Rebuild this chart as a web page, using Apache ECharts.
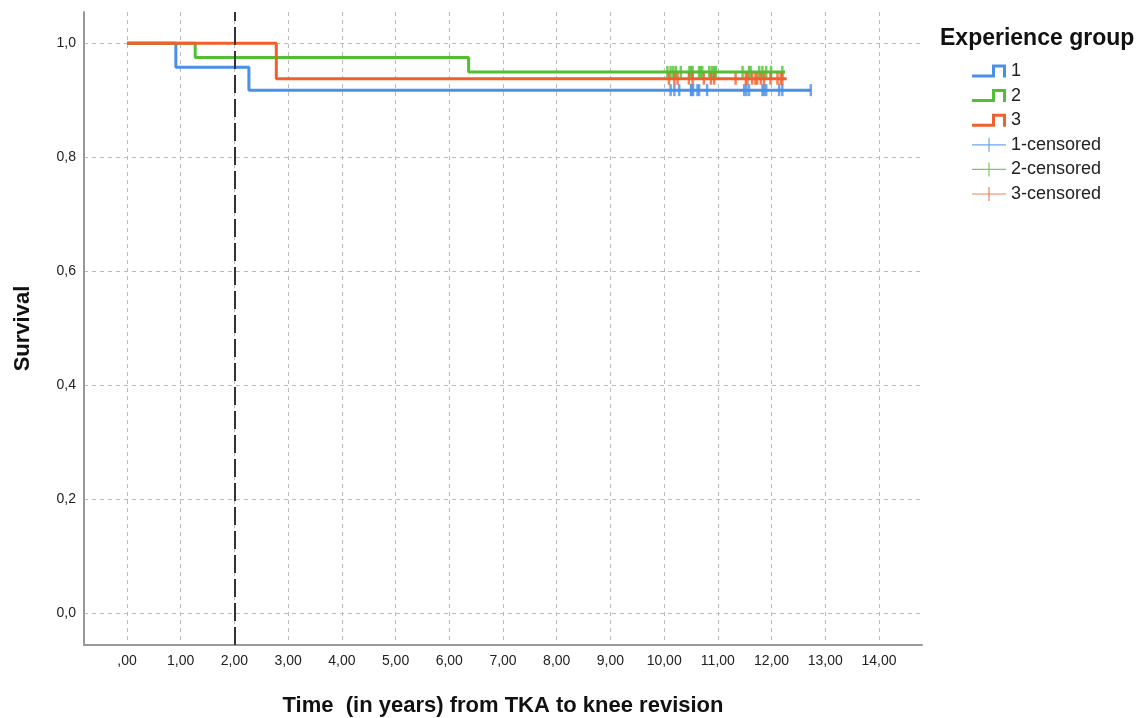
<!DOCTYPE html>
<html>
<head>
<meta charset="utf-8">
<style>
  html, body { margin: 0; padding: 0; background: #fff; }
  #chart { width: 1142px; height: 718px; }
</style>
<script src="https://cdn.jsdelivr.net/npm/echarts@6/dist/echarts.min.js"></script>
</head>
<body>
<div id="chart"></div>
<script>
// Kaplan-Meier steps per experience group (time in years, survival)
const group1Times = [0, 0.91, 2.27, 12.73];
const group1Surv = [1, 0.958, 0.918, 0.918];
const group2Times = [0, 1.27, 6.36, 12.25];
const group2Surv = [1, 0.975, 0.950, 0.950];
const group3Times = [0, 2.78, 12.28];
const group3Surv = [1, 0.938, 0.938];

// censored observations (time), drawn at the group's survival level
const group1Censored = [10.12, 10.19, 10.28, 10.50, 10.51, 10.54, 10.62, 10.65, 10.80,
  11.49, 11.53, 11.58, 11.83, 11.86, 11.90, 12.14, 12.20, 12.73];
const group2Censored = [10.06, 10.12, 10.17, 10.22, 10.31, 10.47, 10.50, 10.53, 10.65,
  10.68, 10.71, 10.84, 10.89, 10.93, 10.96, 11.46, 11.58, 11.61, 11.77, 11.83, 11.90, 11.99, 12.20];
const group3Censored = [10.09, 10.19, 10.25, 10.46, 10.53, 10.74, 10.87, 10.93, 11.33,
  11.52, 11.55, 11.64, 11.70, 11.73, 11.80, 11.86, 11.98, 12.11, 12.17, 12.20];

const xTicks = [0, 1, 2, 3, 4, 5, 6, 7, 8, 9, 10, 11, 12, 13, 14];
const yTicks = [0, 0.2, 0.4, 0.6, 0.8, 1.0];
const referenceYear = 2;

const colors = ['#4a8fe8', '#52bf33', '#f0602d'];
const font = 'Liberation Sans, Arial, sans-serif';

const zip = (xs, ys) => xs.map((x, i) => [x, ys[i]]);
const stepIcon = 'path://M0,10 H20 V0 H34 V13 H31 V3 H23 V13 H0 Z';
const plusIcon = 'path://M0,6.4 H34 V7.6 H0 Z M16.4,0 H17.6 V14 H16.4 Z';

const chart = echarts.init(document.getElementById('chart'));

function stepSeries(name, times, surv, color, extra) {
  return Object.assign({
    name: name,
    type: 'line',
    step: 'end',
    data: zip(times, surv),
    showSymbol: false,
    symbol: 'none',
    lineStyle: { color: color, width: 3 },
    itemStyle: { color: color },
    z: 2
  }, extra || {});
}

function censorSeries(name, times, level, color) {
  return {
    name: name,
    type: 'scatter',
    data: times.map(t => [t, level]),
    symbol: 'rect',
    symbolSize: [2.5, 12],
    itemStyle: { color: color },
    z: 3
  };
}

chart.setOption({
  animation: false,
  textStyle: { fontFamily: font },
  title: {
    text: 'Experience group',
    left: 935,
    top: 22,
    textStyle: { fontFamily: font, fontSize: 23, fontWeight: 'bold', color: '#111' }
  },
  legend: {
    orient: 'vertical',
    left: 967,
    top: 57,
    itemWidth: 34,
    itemHeight: 14,
    itemGap: 6.6,
    textStyle: { fontFamily: font, fontSize: 18, color: '#222', lineHeight: 18 },
    data: [
      { name: '1', icon: stepIcon },
      { name: '2', icon: stepIcon },
      { name: '3', icon: stepIcon },
      { name: '1-censored', icon: plusIcon },
      { name: '2-censored', icon: plusIcon },
      { name: '3-censored', icon: plusIcon }
    ]
  },
  grid: { left: 84, right: 220, top: 12, bottom: 73, outerBoundsMode: 'none' },
  xAxis: {
    type: 'value',
    min: -0.8,
    max: 14.8,
    name: 'Time  (in years) from TKA to knee revision',
    nameLocation: 'middle',
    nameGap: 50,
    nameTextStyle: { fontFamily: font, fontSize: 22, fontWeight: 'bold', color: '#111' },
    axisLine: { onZero: false, lineStyle: { color: '#999', width: 2 } },
    axisTick: { show: false, customValues: xTicks },
    axisLabel: {
      customValues: xTicks,
      margin: 9,
      fontSize: 14,
      color: '#222',
      formatter: v => v === 0 ? ',00' : v.toFixed(2).replace('.', ',')
    },
    splitLine: { show: true, lineStyle: { color: '#bbb', type: [4, 4], width: 1 } }
  },
  yAxis: {
    type: 'value',
    min: -0.055,
    max: 1.055,
    name: 'Survival',
    nameLocation: 'middle',
    nameGap: 50,
    nameTextStyle: { fontFamily: font, fontSize: 22, fontWeight: 'bold', color: '#111' },
    axisLine: { show: true, onZero: false, lineStyle: { color: '#999', width: 2 } },
    axisTick: { show: false, customValues: yTicks },
    axisLabel: {
      customValues: yTicks,
      margin: 8,
      fontSize: 14,
      color: '#222',
      formatter: v => v.toFixed(1).replace('.', ',')
    },
    splitLine: { show: true, lineStyle: { color: '#bbb', type: [4, 4], width: 1 } }
  },
  series: [
    stepSeries('1', group1Times, group1Surv, colors[0], {
      markLine: {
        silent: true,
        symbol: 'none',
        label: { show: false },
        lineStyle: { color: '#333', type: [18, 6], width: 2 },
        data: [{ xAxis: referenceYear }]
      }
    }),
    stepSeries('2', group2Times, group2Surv, colors[1]),
    stepSeries('3', group3Times, group3Surv, colors[2]),
    censorSeries('1-censored', group1Censored, group1Surv[group1Surv.length - 1], colors[0]),
    censorSeries('2-censored', group2Censored, group2Surv[group2Surv.length - 1], colors[1]),
    censorSeries('3-censored', group3Censored, group3Surv[group3Surv.length - 1], colors[2])
  ]
});
</script>
</body>
</html>
